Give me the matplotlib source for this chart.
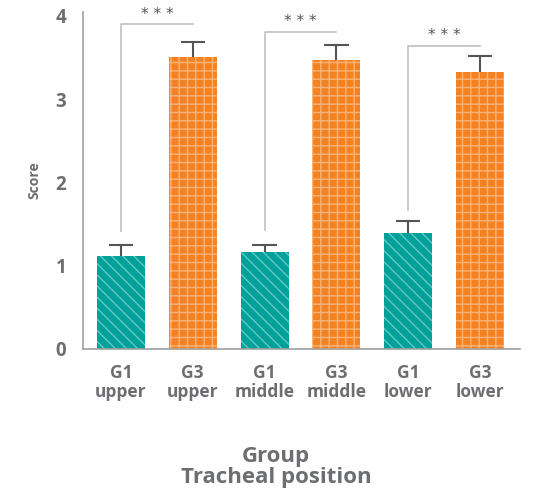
import matplotlib
matplotlib.use('Agg')
import matplotlib.pyplot as plt
import numpy as np

# Data
#----------------------------
labels = ['G1\nupper', 'G3\nupper', 'G1\nmiddle', 'G3\nmiddle', 'G1\nlower', 'G3\nlower']
means  = [1.12, 3.51, 1.16, 3.47, 1.39, 3.33]
errs   = [0.13, 0.18, 0.09, 0.18, 0.15, 0.19]

# significance brackets: (left bar, right bar, bracket height, bottom of left leg)
brackets = [(0, 1, 3.90, 1.41), (2, 3, 3.81, 1.43), (4, 5, 3.64, 1.67)]
sig_text = '* * *'

teal   = '#00A19A'
orange = '#F58220'
grey   = '#6D6E71'

plt.rcParams['font.family'] = ['Open Sans', 'DejaVu Sans']
plt.rcParams['hatch.linewidth'] = 1.0

fig = plt.figure(figsize=(5.38, 4.92), dpi=100)
ax = fig.add_axes([0.154, 0.291, 0.813, 0.685])

x = np.arange(len(means))
colors  = [teal, orange] * 3
hatches = ['\\\\\\', '++'] * 3
for xi, m, c, h in zip(x, means, colors, hatches):
    ax.bar(xi, m, width=0.67, color=c, hatch=h,
           edgecolor=(1, 1, 1, 0.4), linewidth=0, zorder=2)

# upper error bars only
tops = np.array(means) + np.array(errs)
ax.vlines(x, means, tops, color='#555555', linewidth=1.5, zorder=3)
ax.hlines(tops, x - 0.17, x + 0.17, color='#555555', linewidth=1.5, zorder=3)

# brackets
for a, b, h, low in brackets:
    ax.plot([x[a], x[a], x[b]], [low, h, h], color='#C0C0C0', linewidth=1.2, zorder=1)
    ax.text((x[a] + x[b]) / 2, h + 0.03, sig_text, ha='center', va='bottom',
            color='#555555', fontsize=11, family='DejaVu Sans')

ax.set_xlim(-0.53, 5.56)
ax.set_ylim(0, 4.05)
ax.set_yticks([0, 1, 2, 3, 4])
ax.set_xticks(x)
ax.set_xticklabels(labels, fontsize=12.5, fontweight='bold', color=grey, linespacing=1.05)
ax.tick_params(axis='y', labelsize=13.5, labelcolor=grey, length=0, pad=12)
for lab in ax.get_yticklabels():
    lab.set_fontweight('bold')
ax.tick_params(axis='x', length=0, pad=11)

for s in ['top', 'right']:
    ax.spines[s].set_visible(False)
for s in ['left', 'bottom']:
    ax.spines[s].set_color('#A0A0A0')
    ax.spines[s].set_linewidth(1.2)

ax.set_ylabel('Score', fontsize=10, fontweight='bold', color=grey, labelpad=10)
fig.text(0.513, 0.008, 'Group\nTracheal position', ha='center', va='bottom',
         fontsize=16, fontweight='bold', color=grey, linespacing=1.0)

fig.savefig('out.png', dpi=100)
